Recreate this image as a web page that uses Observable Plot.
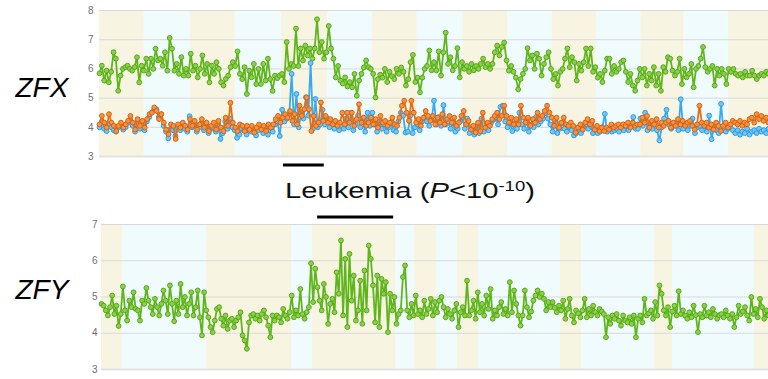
<!DOCTYPE html>
<html><head><meta charset="utf-8">
<script src="https://cdn.jsdelivr.net/npm/d3@7"></script>
<script src="https://cdn.jsdelivr.net/npm/@observablehq/plot@0.6"></script>
<style>
html,body{margin:0;padding:0;background:#fff;}
#root{position:relative;width:768px;height:379px;overflow:hidden;font-family:"Liberation Sans",Arial,sans-serif;}
#root > *{position:absolute;left:0;}
</style></head><body><div id="root"></div>
<script>
// ---------- DATA ----------
// ZFX expression, three series (green, blue, orange), samples in order along the panel
const zfxGreen = [
5.85,6.11,5.6,5.94,5.54,5.9,6.57,6.35,5.25,5.77,6.0,6.06,6.11,6.0,5.94,6.06,6.4,5.54,6.11,5.94,6.35,5.83,6.35,6.0,6.69,6.29,6.35,6.11,6.57,5.94,7.06,6.69,5.94,6.17,5.83,6.4,5.77,6.0,5.77,6.52,5.94,6.11,5.71,6.0,6.46,5.83,6.17,5.54,6.11,5.83,6.23,6.0,5.54,5.43,5.66,5.77,6.06,6.23,
6.1,6.6,5.83,5.65,6.06,5.14,5.94,5.71,6.17,5.48,6.0,5.48,6.17,5.6,6.35,5.65,5.25,5.77,5.68,5.77,5.83,5.55,6.92,6.0,6.17,6.1,7.38,6.1,6.7,6.29,6.8,6.46,6.7,6.35,6.7,7.7,6.57,6.92,6.35,6.57,7.47,6.7,6.35,5.71,6.1,5.6,5.5,5.71,5.4,5.55,5.37,5.83,5.08,5.6,5.83,6.05,6.29,6.06,
6.0,5.83,5.02,5.65,5.8,5.7,6.0,5.55,5.9,5.75,5.65,6.0,5.83,6.05,5.9,5.43,5.65,6.23,6.48,5.55,5.7,5.2,5.7,6.0,6.1,6.63,5.95,6.23,5.95,6.6,5.77,6.57,7.24,6.17,6.4,5.95,6.1,6.71,5.71,6.23,6.0,6.1,5.9,6.17,5.95,6.1,6.0,6.17,6.35,6.06,6.17,6.0,6.17,6.57,6.8,6.46,
6.75,6.9,6.29,5.94,6.1,5.9,5.7,5.3,5.65,5.83,6.0,6.71,6.29,6.46,6.0,6.52,6.35,5.77,6.17,6.4,6.57,6.0,5.65,5.83,5.43,5.9,6.0,6.35,6.7,6.06,6.4,6.23,5.6,6.17,5.94,6.23,6.7,6.1,6.7,5.9,6.06,5.7,5.83,5.55,5.94,6.35,6.35,5.83,6.1,5.9,6.0,6.23,6.29,5.9,5.55,5.83,5.43,5.25,5.6,
6.0,5.71,6.0,5.43,5.83,5.6,6.06,5.43,5.83,5.25,6.06,5.9,6.4,6.35,5.94,5.77,5.9,6.35,5.48,6.0,5.71,5.83,6.17,5.37,6.0,6.1,6.35,6.75,6.06,5.9,6.0,6.1,5.43,6.0,5.77,6.0,5.83,5.48,6.0,5.9,6.0,5.83,5.77,5.83,5.71,5.9,5.77,5.77,5.94,5.77,5.65,5.77,5.83,5.77,5.9,5.83
];
const zfxBlue = [
4.0,4.2,3.95,3.87,4.1,4.0,3.9,3.85,4.0,4.1,3.92,4.0,4.15,4.25,4.05,3.85,4.15,3.95,4.1,3.9,4.2,4.35,4.5,4.6,4.62,4.35,4.45,4.05,3.85,3.62,3.95,3.9,3.7,4.0,3.9,4.05,3.95,3.85,4.38,4.0,4.1,3.85,4.0,4.15,3.9,4.05,3.8,3.95,4.0,3.85,4.1,3.6,3.8,4.2,3.95,4.3,
4.0,3.9,3.64,3.75,3.95,3.9,3.75,3.95,3.85,3.95,3.72,3.9,4.0,3.8,3.95,3.75,3.9,3.85,4.1,4.2,3.7,4.6,4.2,4.3,4.45,5.83,4.1,5.14,4.0,4.5,4.3,5.03,4.4,6.2,3.95,4.97,4.0,4.1,4.6,4.1,4.3,4.0,4.15,3.95,4.1,3.9,4.05,3.95,4.3,4.0,4.5,3.9,4.1,4.4,4.0,4.2,3.85,
4.5,4.05,4.5,4.1,3.85,4.2,3.95,4.1,3.85,4.0,4.15,3.9,3.85,4.2,4.5,4.4,3.82,3.85,4.4,3.8,4.0,4.1,3.9,4.2,4.3,4.2,4.05,4.25,4.91,4.1,4.35,4.05,4.76,4.1,4.2,3.95,4.15,3.85,3.95,4.2,4.35,3.95,4.3,3.8,3.95,3.75,4.05,3.8,4.3,3.85,4.0,3.9,4.15,4.25,4.35,4.1,4.7,
4.74,4.2,4.0,4.15,3.87,4.1,3.95,4.5,4.1,3.95,4.2,3.85,4.1,4.0,4.35,4.1,4.2,4.3,4.5,4.3,4.1,3.85,4.15,3.8,3.95,4.15,3.95,3.85,4.0,3.9,3.72,3.8,3.95,3.8,4.0,4.1,3.95,4.05,3.8,3.9,3.8,3.85,4.0,4.46,3.85,3.95,3.85,3.9,3.95,3.85,4.0,3.9,4.05,3.9,4.1,4.35,3.95,
3.95,4.3,4.05,4.5,3.9,4.1,3.95,4.15,3.9,3.55,4.0,4.3,4.6,4.1,3.95,4.05,4.15,3.9,4.96,3.95,4.1,3.9,4.05,4.3,3.8,4.0,4.05,3.9,4.05,3.85,4.4,3.59,4.0,3.9,3.8,4.8,3.9,3.85,3.95,4.0,3.9,3.8,3.9,3.75,3.85,3.8,3.95,3.75,3.85,3.9,3.8,3.95,3.85,3.9,3.8,3.95
];
const zfxOrange = [
4.1,4.39,4.16,3.99,4.45,4.16,4.05,3.87,4.05,4.16,3.99,4.1,4.22,4.39,4.16,3.92,4.28,4.05,4.22,3.99,4.28,4.45,4.5,4.68,4.56,4.28,4.45,4.16,3.92,3.76,4.1,4.05,3.6,4.1,3.99,4.16,4.05,3.92,4.28,4.05,4.22,3.92,4.1,4.28,3.99,4.16,3.87,4.05,4.16,3.92,4.22,3.99,3.87,4.33,4.05,4.84,
4.16,3.99,3.87,4.1,4.05,3.87,4.05,3.92,4.05,3.82,3.99,4.1,3.92,4.05,3.87,4.1,3.99,4.1,4.28,4.39,4.16,4.33,4.45,4.33,4.56,4.22,4.45,4.1,4.74,4.39,4.62,5.02,4.62,3.87,4.39,4.05,4.16,4.85,4.22,4.39,4.16,4.28,4.1,4.22,4.05,4.16,4.5,4.1,4.5,4.16,4.5,4.05,4.28,4.79,4.16,4.33,4.05,
4.16,4.33,4.1,4.28,3.99,4.39,4.16,4.22,4.05,4.16,4.33,4.1,4.05,4.33,4.74,4.91,4.5,4.22,4.91,4.5,4.16,4.28,4.05,4.33,4.56,4.39,4.22,4.39,4.1,4.33,4.16,4.45,4.1,4.28,4.39,4.16,4.33,4.05,4.16,4.39,4.56,4.1,4.22,3.92,4.05,3.82,4.16,3.87,4.5,3.99,4.16,4.05,4.28,4.39,4.5,4.28,4.39,
4.74,4.39,4.16,4.33,4.1,4.28,4.1,4.74,4.33,4.16,4.33,4.05,4.28,4.16,4.5,4.28,4.39,4.56,4.74,4.5,4.33,4.05,4.33,3.99,4.16,4.33,4.1,4.05,4.16,4.05,3.82,3.99,4.1,3.92,4.16,4.28,4.1,4.22,3.92,4.05,3.87,3.99,3.87,3.99,3.92,4.1,3.99,4.05,4.1,3.99,4.1,4.05,4.16,3.99,4.16,4.05,4.1,
4.1,4.33,4.16,4.39,3.99,4.22,4.1,4.28,3.99,4.16,4.05,4.16,4.22,3.99,4.16,4.05,4.28,4.1,4.22,4.05,4.16,4.22,4.05,3.92,4.1,4.74,4.16,4.05,4.16,3.99,4.1,3.92,4.16,4.05,3.87,4.05,4.16,3.99,4.1,4.22,4.16,4.1,4.22,4.05,4.16,4.1,4.28,4.33,4.16,4.45,4.28,4.39,4.22,4.33,4.16
];
// ZFY expression
const zfyGreen = [
4.81,4.76,4.63,4.49,4.72,5.04,4.53,4.76,4.2,4.53,5.29,4.63,4.35,4.9,4.72,5.13,4.67,4.63,4.35,4.9,4.81,5.25,4.9,4.72,4.53,4.95,4.72,4.49,4.81,5.18,4.9,4.53,5.32,4.81,4.33,4.9,4.53,5.36,4.72,5.0,4.49,4.81,5.13,4.49,4.72,5.18,4.44,3.94,5.13,4.63,4.44,4.17,4.03,4.35,4.67,4.72,4.4,4.21,4.49,4.12,4.35,4.4,4.17,4.35,4.44,4.58,3.94,3.8,3.57,4.3,4.49,4.53,4.4,4.49,4.35,
4.53,4.63,4.44,4.21,3.89,4.49,4.35,4.49,4.44,4.3,4.67,4.49,4.4,4.58,5.04,4.44,4.63,4.49,5.22,4.53,4.4,4.58,4.72,5.93,4.86,5.78,5.27,4.9,4.63,5.36,5.0,4.26,4.81,4.95,4.58,5.68,5.09,6.56,4.49,6.05,4.17,6.19,4.9,5.59,4.35,4.63,5.45,4.26,5.73,4.63,6.42,6.05,5.32,4.3,5.59,4.17,5.5,5.09,5.41,4.03,5.09,4.63,5.0,4.26,4.53,4.63,5.55,5.87,4.63,4.44,4.81,4.49,5.04,4.53,4.63,4.44,4.9,4.53,4.67,4.95,4.49,4.86,4.58,4.9,5.0,4.72,4.44,4.67,4.53,4.4,4.63,4.81,4.17,4.58,4.72,4.49,5.45,4.49,4.63,4.9,4.4,5.13,4.58,4.81,4.49,5.04,4.67,5.22,4.4,4.63,4.49,4.72,4.86,4.53,4.67,4.49,
5.41,4.58,5.18,4.81,4.49,4.21,4.49,5.18,4.72,4.44,4.6,4.9,5.04,5.18,5.0,5.09,4.95,4.63,4.86,4.72,4.86,4.7,4.58,4.76,4.63,4.9,4.4,4.67,4.95,4.49,4.3,4.63,4.55,4.44,4.63,4.95,4.44,4.67,4.49,4.76,4.58,4.49,4.67,4.6,4.53,3.89,4.44,4.26,4.49,4.4,4.53,4.35,4.21,4.49,4.35,4.3,4.44,4.26,4.49,3.89,4.4,4.49,4.3,4.95,4.49,4.55,4.63,4.4,4.86,4.49,5.32,5.09,4.63,4.49,4.72,4.17,4.6,4.76,4.49,5.16,4.53,4.63,4.49,4.4,4.58,4.44,4.76,4.5,4.03,4.53,4.44,4.76,4.49,4.58,4.44,4.67,4.53,4.4,4.5,4.53,4.44,4.63,4.49,4.4,4.53,4.17,4.44,4.76,4.53,4.6,4.72,4.49,4.35,5.0,4.53,4.67,4.44,4.95,4.72,4.4,4.63,4.49
];
// sample groups (band edges, % of panel width)
const zfxBandEdges = [0,6.7,13.6,20.3,27.2,34.1,40.8,47.5,54.3,61.0,67.6,74.3,80.9,87.4,94.0,100];
const zfyBandEdges = [0,3.15,15.74,28.49,31.63,44.08,46.93,50.22,53.37,56.52,68.82,71.96,82.91,85.61,97.9,100];
// leukemia sample ranges (% of panel width)
const zfxLeukemia = [27.5, 33.6];
const zfyLeukemia = [32.4, 43.8];
const zfxTicks = [3,4,5,6,7,8];
const zfyTicks = [3,4,5,6,7];
const geneLabels = ["ZFX","ZFY"];

// ---------- BUILD ----------
const pts = vals => vals.map((v,i)=>({x: i/(vals.length-1)*100, y: v}));
const bands = edges => edges.slice(0,-1).map((e,i)=>({x1:e, x2:edges[i+1], k:i%2}));
const BEIGE = "#f7f5e2", BLUE = "#f0fbfe";
const GRID = "#d9d9d9";
const COL = {
  green: {line:"#5fb61c", stroke:"#55aa14", fill:"#8ccf4c"},
  blue:  {line:"#38aaf0", stroke:"#2a9de6", fill:"#72c6f6"},
  orange:{line:"#ea6d12", stroke:"#dc600a", fill:"#f19447"}
};
function series(vals, c){
  const d = pts(vals);
  return [
    Plot.line(d, {x:"x", y:"y", stroke:c.line, strokeWidth:1.8}),
    Plot.dot(d, {x:"x", y:"y", r:2.4, fill:c.fill, stroke:c.stroke, strokeWidth:1})
  ];
}
function panel({edges, ticks, domain, height, mt, mb, ml, pad, seriesMarks, leuk, leukY, leukDy, label, labelDx, labelDy}){
  const b = bands(edges);
  return Plot.plot({
    width:768, height, marginTop:mt, marginBottom:mb, marginLeft:ml, marginRight:0,
    style:{fontFamily:'"Liberation Sans", Arial, sans-serif', background:"transparent", overflow:"visible"},
    x:{domain:[0,100], axis:null},
    y:{domain, axis:null},
    marks:[
      Plot.rect(b.filter(d=>d.k===0), {x1:"x1", x2:"x2", fill:BEIGE}),
      Plot.rect(b.filter(d=>d.k===1), {x1:"x1", x2:"x2", fill:BLUE}),
      Plot.gridY(ticks, {stroke:GRID, strokeOpacity:1, strokeWidth:1}),
      Plot.ruleY([domain[0]], {stroke:"#e2e2e2", strokeWidth:2}),
      Plot.axisY(ticks, {tickSize:0, tickPadding:pad, fontSize:10, color:"#6f6f6f", label:null}),
      ...seriesMarks,
      Plot.ruleY([{y:leukY, x1:leuk[0], x2:leuk[1]}], {y:"y", x1:"x1", x2:"x2", dy:leukDy, stroke:"#000", strokeWidth:3}),
      Plot.text([label], {frameAnchor:"left", text:d=>d, dx:labelDx, dy:labelDy, textAnchor:"start", fontSize:28, fontStyle:"italic", fill:"#000"})
    ]
  });
}
const root = document.getElementById("root");
const zfxChart = panel({edges:zfxBandEdges, ticks:zfxTicks, domain:[3,8], height:170, mt:10, mb:14, ml:99, pad:6,
  seriesMarks:[...series(zfxGreen, COL.green), ...series(zfxBlue, COL.blue), ...series(zfxOrange, COL.orange)],
  leuk:zfxLeukemia, leukY:3, leukDy:8.5, label:geneLabels[0], labelDx:-84, labelDy:5});
zfxChart.style.top = "0px";
root.appendChild(zfxChart);

const zfyChart = panel({edges:zfyBandEdges, ticks:zfyTicks, domain:[3,7], height:174, mt:19, mb:10, ml:101, pad:4,
  seriesMarks:[...series(zfyGreen, COL.green)],
  leuk:zfyLeukemia, leukY:7, leukDy:-7.5, label:geneLabels[1], labelDx:-86, labelDy:-7});
zfyChart.style.top = "205px";
root.appendChild(zfyChart);

// title between panels
const NS = "http://www.w3.org/2000/svg";
const tsvg = document.createElementNS(NS, "svg");
tsvg.setAttribute("width", 768); tsvg.setAttribute("height", 40);
tsvg.style.top = "170px"; tsvg.style.overflow = "visible";
tsvg.innerHTML = '<text x="285" y="27.5" font-family="Liberation Sans, Arial, sans-serif" font-size="22" fill="#111" textLength="250" lengthAdjust="spacingAndGlyphs">Leukemia (<tspan font-style="italic">P</tspan>&lt;10<tspan font-size="14" dy="-6.5">-10</tspan><tspan dy="6.5">)</tspan></text>';
root.appendChild(tsvg);
</script></body></html>
